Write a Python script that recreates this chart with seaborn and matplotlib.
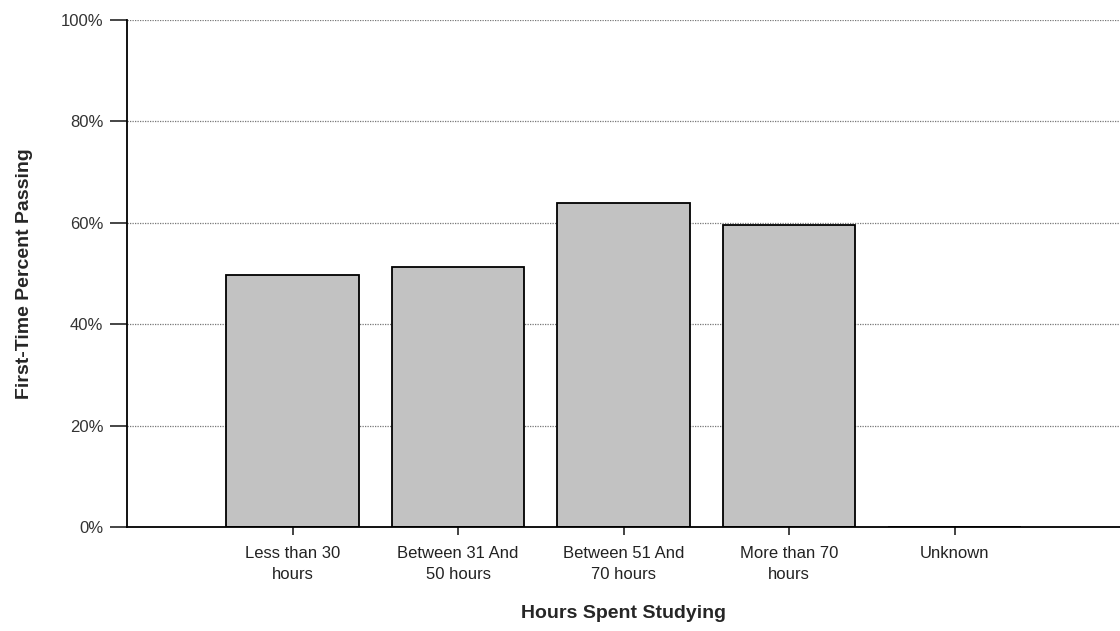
import matplotlib
matplotlib.use("Agg")
import matplotlib.pyplot as plt
import seaborn as sb
import pandas as pd

categories = [
    "Less than 30\nhours",
    "Between 31 And\n50 hours",
    "Between 51 And\n70 hours",
    "More than 70\nhours",
    "Unknown",
]
pass_rate = [49.7, 51.2, 63.9, 59.5, 0.0]
y_ticks = [0, 20, 40, 60, 80, 100]

data = pd.DataFrame({"Hours": categories, "Passing": pass_rate})

sb.set_style("white")
plt.rcParams["font.family"] = ["Liberation Sans", "DejaVu Sans"]

fig = plt.figure(figsize=(11.2, 6.31), dpi=100)
ax = fig.add_axes([0.1134, 0.1648, 0.8866, 0.8035])

sb.barplot(data=data, x="Hours", y="Passing", color="#c2c2c2",
           edgecolor="black", linewidth=1.3, width=0.8, saturation=1, ax=ax)

# leave room for an empty slot on each side, like the original
ax.set_xlim(-1, 5)
ax.set_ylim(0, 100)
ax.set_yticks(y_ticks)
ax.set_yticklabels([f"{t}%" for t in y_ticks], fontsize=12, color="#333333")
ax.tick_params(axis="x", labelsize=12, colors="#222222", length=6, width=1.2,
               direction="out", bottom=True, pad=8)
ax.tick_params(axis="y", length=12, width=1.2, direction="out", left=True, pad=5)
for lab in ax.get_xticklabels():
    lab.set_linespacing(1.5)

ax.yaxis.grid(True, linestyle=(0, (1, 1)), color="#777777", linewidth=0.9)
ax.set_axisbelow(True)

for side in ["top", "right"]:
    ax.spines[side].set_visible(False)
for side in ["left", "bottom"]:
    ax.spines[side].set_color("black")
    ax.spines[side].set_linewidth(1.3)

ax.set_xlabel("Hours Spent Studying", fontsize=14, fontweight="bold", labelpad=16)
ax.set_ylabel("First-Time Percent Passing", fontsize=14, fontweight="bold", labelpad=20)

fig.savefig("out.png", dpi=100)
